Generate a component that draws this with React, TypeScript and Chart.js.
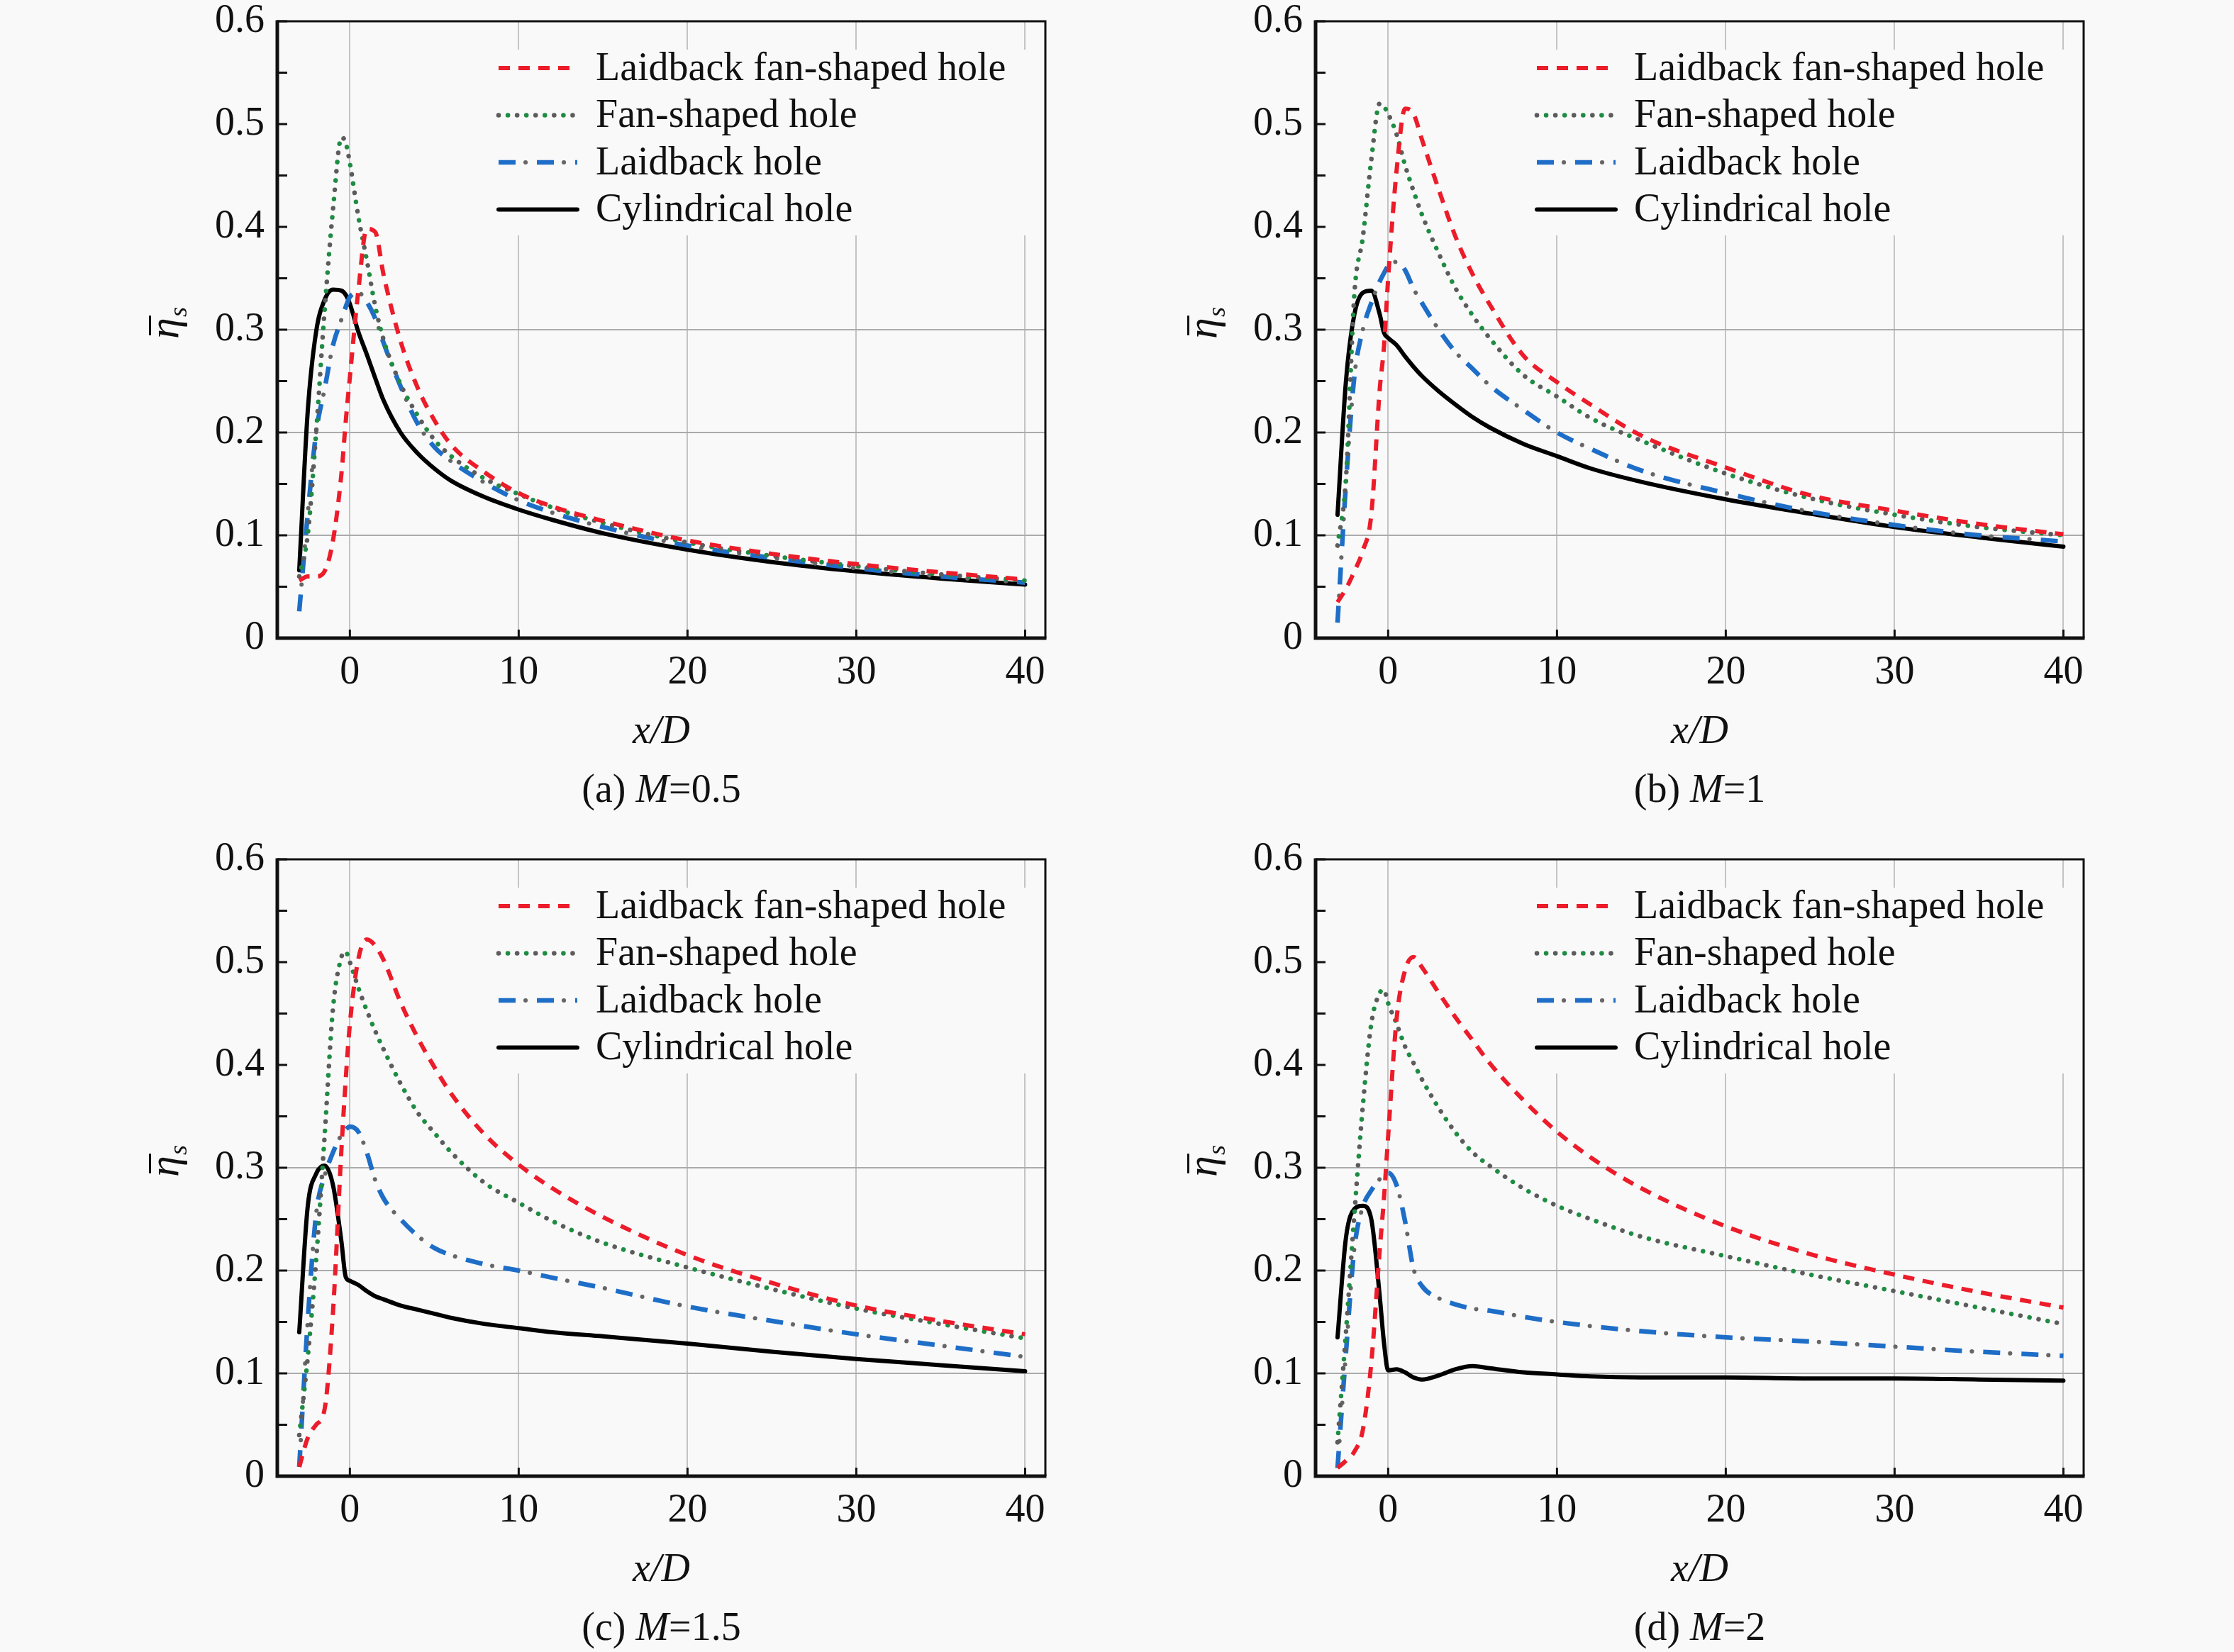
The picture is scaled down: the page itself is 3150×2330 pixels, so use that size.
import { useEffect, useRef } from 'react';
import { Chart, registerables } from 'chart.js';

Chart.register(...registerables);

// x/D sample positions shared by every curve
const xD = [-3, -2.5, -2, -1.5, -1, -0.5, -0.25, 0, 0.5, 1, 1.5, 2, 3, 4, 5, 6, 8, 10, 12, 15, 20, 25, 30, 35, 40];

// (a) M=0.5
const lfsA = [0.056, 0.06, 0.06, 0.065, 0.095, 0.16, 0.21, 0.254, 0.338, 0.398, 0.395, 0.353, 0.289, 0.244, 0.212, 0.188, 0.161, 0.141, 0.128, 0.114, 0.095, 0.082, 0.072, 0.064, 0.057];
const fanA = [0.06, 0.1, 0.2, 0.318, 0.417, 0.487, 0.482, 0.462, 0.41, 0.368, 0.323, 0.29, 0.247, 0.217, 0.193, 0.177, 0.155, 0.14, 0.127, 0.112, 0.093, 0.08, 0.07, 0.062, 0.056];
const lbA = [0.026, 0.12, 0.2, 0.242, 0.285, 0.31, 0.322, 0.332, 0.336, 0.327, 0.311, 0.287, 0.245, 0.209, 0.186, 0.172, 0.151, 0.134, 0.122, 0.108, 0.09, 0.078, 0.068, 0.06, 0.054];
const cylA = [0.066, 0.22, 0.298, 0.329, 0.339, 0.338, 0.334, 0.325, 0.298, 0.276, 0.253, 0.231, 0.2, 0.18, 0.165, 0.153, 0.137, 0.125, 0.115, 0.102, 0.086, 0.074, 0.065, 0.058, 0.052];

// (b) M=1
const lfsB = [0.035, 0.048, 0.065, 0.085, 0.12, 0.242, 0.283, 0.35, 0.455, 0.515, 0.51, 0.485, 0.436, 0.39, 0.354, 0.325, 0.275, 0.249, 0.227, 0.197, 0.166, 0.139, 0.124, 0.111, 0.101];
const fanB = [0.09, 0.155, 0.335, 0.39, 0.465, 0.52, 0.517, 0.51, 0.49, 0.46, 0.435, 0.412, 0.374, 0.34, 0.314, 0.292, 0.256, 0.235, 0.214, 0.192, 0.16, 0.136, 0.12, 0.108, 0.1];
const lbB = [0.015, 0.15, 0.255, 0.3, 0.326, 0.347, 0.355, 0.362, 0.366, 0.358, 0.34, 0.326, 0.3, 0.278, 0.262, 0.246, 0.222, 0.2, 0.184, 0.163, 0.141, 0.123, 0.11, 0.1, 0.094];
const cylB = [0.12, 0.25, 0.315, 0.336, 0.338, 0.315, 0.297, 0.292, 0.285, 0.274, 0.264, 0.255, 0.24, 0.227, 0.215, 0.205, 0.189, 0.177, 0.165, 0.152, 0.135, 0.121, 0.108, 0.098, 0.089];

// (c) M=1.5
const lfsC = [0.009, 0.037, 0.05, 0.065, 0.16, 0.318, 0.385, 0.44, 0.503, 0.522, 0.516, 0.502, 0.461, 0.427, 0.398, 0.372, 0.332, 0.303, 0.28, 0.252, 0.215, 0.188, 0.166, 0.151, 0.138];
const fanC = [0.04, 0.115, 0.21, 0.33, 0.455, 0.505, 0.51, 0.5, 0.475, 0.453, 0.433, 0.415, 0.382, 0.354, 0.334, 0.315, 0.285, 0.266, 0.248, 0.227, 0.203, 0.182, 0.163, 0.148, 0.134];
const lbC = [0.009, 0.15, 0.255, 0.292, 0.315, 0.332, 0.337, 0.34, 0.335, 0.315, 0.288, 0.27, 0.25, 0.234, 0.222, 0.215, 0.206, 0.2, 0.193, 0.183, 0.165, 0.151, 0.138, 0.127, 0.116];
const cylC = [0.14, 0.262, 0.294, 0.302, 0.283, 0.228, 0.194, 0.19, 0.186, 0.18, 0.175, 0.172, 0.166, 0.162, 0.158, 0.154, 0.148, 0.144, 0.14, 0.136, 0.129, 0.121, 0.114, 0.108, 0.102];

// (d) M=2
const lfsD = [0.008, 0.015, 0.024, 0.045, 0.11, 0.22, 0.27, 0.331, 0.445, 0.492, 0.505, 0.495, 0.47, 0.446, 0.424, 0.402, 0.366, 0.335, 0.31, 0.28, 0.243, 0.216, 0.196, 0.179, 0.164];
const fanD = [0.033, 0.14, 0.255, 0.36, 0.44, 0.47, 0.473, 0.46, 0.44, 0.418, 0.402, 0.386, 0.358, 0.334, 0.315, 0.302, 0.28, 0.263, 0.25, 0.233, 0.214, 0.196, 0.18, 0.164, 0.148];
const lbD = [0.008, 0.12, 0.222, 0.262, 0.278, 0.289, 0.293, 0.295, 0.283, 0.248, 0.202, 0.185, 0.173, 0.167, 0.163, 0.161, 0.155, 0.15, 0.146, 0.141, 0.135, 0.131, 0.126, 0.121, 0.117];
const cylD = [0.135, 0.232, 0.26, 0.263, 0.25, 0.175, 0.13, 0.103, 0.104, 0.101, 0.096, 0.094, 0.098, 0.104, 0.107, 0.105, 0.101, 0.099, 0.097, 0.096, 0.096, 0.095, 0.095, 0.094, 0.093];

const seriesNames = ['Laidback fan-shaped hole', 'Fan-shaped hole', 'Laidback hole', 'Cylindrical hole'];
const panelLetters = ['(a)', '(b)', '(c)', '(d)'];
const blowingRatios = ['0.5', '1', '1.5', '2'];
const xTickValues = [0, 10, 20, 30, 40];
const yTickValues = [0, 0.1, 0.2, 0.3, 0.4, 0.5, 0.6];
const yGridValues = [0.1, 0.2, 0.3];
const yMinorValues = [0, 0.05, 0.1, 0.15, 0.2, 0.25, 0.3, 0.35, 0.4, 0.45, 0.5, 0.55, 0.6];

const panelSeries = [
  [lfsA, fanA, lbA, cylA],
  [lfsB, fanB, lbB, cylB],
  [lfsC, fanC, lbC, cylC],
  [lfsD, fanD, lbD, cylD],
];

const FONT = '"Liberation Serif", "Times New Roman", serif';
const BG = '#f9f9f9';
const CW = 1575;
const CH = 1145;
const AXIS_W = 391;
const PAD_TOP = 30;
const PLOT_H = 870;
const panelPos = [
  { left: 0, top: 0 },
  { left: 1464, top: 0 },
  { left: 0, top: 1182 },
  { left: 1464, top: 1182 },
];

type Layer = { color: string; width: number; dash: number[]; offset: number; cap: CanvasLineCap };

// two-colour patterns are drawn as two stacked dashed lines
const lineStyles: Layer[][] = [
  [{ color: '#ec1c2a', width: 6, dash: [16, 12], offset: 0, cap: 'butt' }],
  [
    { color: '#5c5c5c', width: 6.5, dash: [0.1, 26], offset: 0, cap: 'round' },
    { color: '#1f8c44', width: 6.5, dash: [0.1, 26], offset: 13.05, cap: 'round' },
  ],
  [
    { color: '#1e6ec8', width: 6.5, dash: [24, 30], offset: 0, cap: 'butt' },
    { color: '#666666', width: 6, dash: [0.1, 53.9], offset: 16, cap: 'round' },
  ],
  [{ color: '#000000', width: 6, dash: [], offset: 0, cap: 'round' }],
];

const decor = {
  id: 'decor',
  afterDatasetsDraw(chart: any) {
    const { ctx, chartArea: a } = chart;
    ctx.save();
    ctx.fillStyle = BG;
    ctx.fillRect(a.left + 290, a.top + 40, 770, 262);
    seriesNames.forEach((name, i) => {
      const y = a.top + 66 + i * 66.5;
      lineStyles[i].forEach((l) => {
        ctx.save();
        ctx.strokeStyle = l.color;
        ctx.lineWidth = l.width;
        ctx.setLineDash(l.dash);
        ctx.lineDashOffset = l.offset;
        ctx.lineCap = l.cap;
        ctx.beginPath();
        ctx.moveTo(a.left + 312, y);
        ctx.lineTo(a.left + 423, y);
        ctx.stroke();
        ctx.restore();
      });
      ctx.fillStyle = '#111';
      ctx.font = `56px ${FONT}`;
      ctx.textBaseline = 'middle';
      ctx.textAlign = 'left';
      ctx.fillText(name, a.left + 449, y + 2);
    });
    ctx.restore();
  },
  afterDraw(chart: any, _args: any, opts: any) {
    const { ctx, chartArea: a } = chart;
    const xs = chart.scales.x;
    const ys = chart.scales.y;
    ctx.save();
    ctx.strokeStyle = '#111';
    ctx.lineCap = 'butt';

    // frame
    ctx.lineWidth = 3;
    ctx.beginPath();
    ctx.moveTo(a.left, a.top);
    ctx.lineTo(a.right, a.top);
    ctx.lineTo(a.right, a.bottom);
    ctx.stroke();
    ctx.lineWidth = 5;
    ctx.beginPath();
    ctx.moveTo(a.left, a.top - 1.5);
    ctx.lineTo(a.left, a.bottom);
    ctx.lineTo(a.right + 1.5, a.bottom);
    ctx.stroke();

    // inward tick marks
    ctx.lineWidth = 3;
    yMinorValues.forEach((v) => {
      const py = ys.getPixelForValue(v);
      ctx.beginPath();
      ctx.moveTo(a.left, py);
      ctx.lineTo(a.left + 14, py);
      ctx.stroke();
    });
    xTickValues.forEach((v) => {
      const px = xs.getPixelForValue(v);
      ctx.beginPath();
      ctx.moveTo(px, a.bottom);
      ctx.lineTo(px, a.bottom - 12);
      ctx.stroke();
    });

    ctx.fillStyle = '#111';
    const cx = (a.left + a.right) / 2;

    // x title
    ctx.font = `italic 56px ${FONT}`;
    ctx.textAlign = 'center';
    ctx.textBaseline = 'middle';
    ctx.fillText('x/D', cx, a.bottom + 133);

    // caption "(a) M=0.5"
    const p1 = `${opts.letter} `;
    const p2 = 'M';
    const p3 = `=${opts.m}`;
    ctx.font = `56px ${FONT}`;
    const w1 = ctx.measureText(p1).width;
    const w3 = ctx.measureText(p3).width;
    ctx.font = `italic 56px ${FONT}`;
    const w2 = ctx.measureText(p2).width;
    let sx = cx - (w1 + w2 + w3) / 2;
    const cy = a.bottom + 216;
    ctx.textAlign = 'left';
    ctx.font = `56px ${FONT}`;
    ctx.fillText(p1, sx, cy);
    sx += w1;
    ctx.font = `italic 56px ${FONT}`;
    ctx.fillText(p2, sx, cy);
    sx += w2;
    ctx.font = `56px ${FONT}`;
    ctx.fillText(p3, sx, cy);

    // y title: eta with overbar, subscript s, rotated
    ctx.save();
    ctx.translate(a.left - 150, (a.top + a.bottom) / 2 - 10);
    ctx.rotate(-Math.PI / 2);
    ctx.textBaseline = 'alphabetic';
    ctx.textAlign = 'left';
    ctx.font = `italic 60px ${FONT}`;
    const we = ctx.measureText('η').width;
    const x0 = -we / 2 - 8;
    ctx.fillText('η', x0, 10);
    ctx.fillRect(x0 + 5, 10 - 41, we - 2, 3);
    ctx.font = `italic 36px ${FONT}`;
    ctx.fillText('s', x0 + we + 1, 22);
    ctx.restore();

    ctx.restore();
  },
};

function Panel({ index }: { index: number }) {
  const canvasRef = useRef<HTMLCanvasElement>(null);
  const chartRef = useRef<Chart | null>(null);

  useEffect(() => {
    if (!canvasRef.current) return;
    if (chartRef.current) chartRef.current.destroy();

    const datasets: any[] = [];
    panelSeries[index].forEach((values, i) => {
      lineStyles[i].forEach((l) => {
        datasets.push({
          label: seriesNames[i],
          data: xD.map((x, k) => ({ x, y: values[k] })),
          borderColor: l.color,
          borderWidth: l.width,
          borderDash: l.dash,
          borderDashOffset: l.offset,
          borderCapStyle: l.cap,
          borderJoinStyle: 'round',
          pointRadius: 0,
          fill: false,
          cubicInterpolationMode: 'monotone',
        });
      });
    });

    const tickFont = { family: FONT, size: 56, lineHeight: 1 };

    chartRef.current = new Chart(canvasRef.current, {
      type: 'line',
      data: { datasets },
      plugins: [decor],
      options: {
        responsive: false,
        animation: false,
        events: [],
        layout: { padding: { left: 0, top: PAD_TOP, right: CW - AXIS_W - 1083, bottom: 0 } },
        plugins: {
          legend: { display: false },
          tooltip: { enabled: false },
          decor: { letter: panelLetters[index], m: blowingRatios[index] },
        } as any,
        scales: {
          x: {
            type: 'linear',
            min: -4.3,
            max: 41.2,
            afterBuildTicks: (s: any) => {
              s.ticks = xTickValues.map((v) => ({ value: v }));
            },
            afterFit: (s: any) => {
              s.height = CH - PAD_TOP - PLOT_H;
              s.paddingLeft = 0;
              s.paddingRight = 0;
            },
            grid: { color: '#c4c4c4', lineWidth: 2, drawTicks: false },
            border: { display: false },
            ticks: { padding: 21, font: tickFont, color: '#111', maxRotation: 0, autoSkip: false },
          },
          y: {
            type: 'linear',
            min: 0,
            max: 0.6,
            afterBuildTicks: (s: any) => {
              s.ticks = yTickValues.map((v) => ({ value: v }));
            },
            afterFit: (s: any) => {
              s.width = AXIS_W;
              s.paddingTop = 0;
              s.paddingBottom = 0;
            },
            grid: {
              color: (c: any) => (c.tick && yGridValues.includes(c.tick.value) ? '#ababab' : 'rgba(0,0,0,0)'),
              lineWidth: 2,
              drawTicks: false,
            },
            border: { display: false },
            ticks: {
              padding: 18,
              font: tickFont,
              color: '#111',
              autoSkip: false,
              callback: (v: any) => (Number(v) === 0 ? '0' : Number(v).toFixed(1)),
            },
          },
        },
      } as any,
    });

    return () => {
      if (chartRef.current) {
        chartRef.current.destroy();
        chartRef.current = null;
      }
    };
  }, [index]);

  const pos = panelPos[index];
  return (
    <canvas
      ref={canvasRef}
      width={CW}
      height={CH}
      style={{ position: 'absolute', left: pos.left, top: pos.top, width: CW, height: CH }}
    />
  );
}

export default function App() {
  return (
    <div
      style={{
        position: 'absolute',
        left: 0,
        top: 0,
        width: 3150,
        height: 2330,
        background: BG,
        overflow: 'hidden',
      }}
    >
      {[0, 1, 2, 3].map((i) => (
        <Panel key={i} index={i} />
      ))}
    </div>
  );
}
